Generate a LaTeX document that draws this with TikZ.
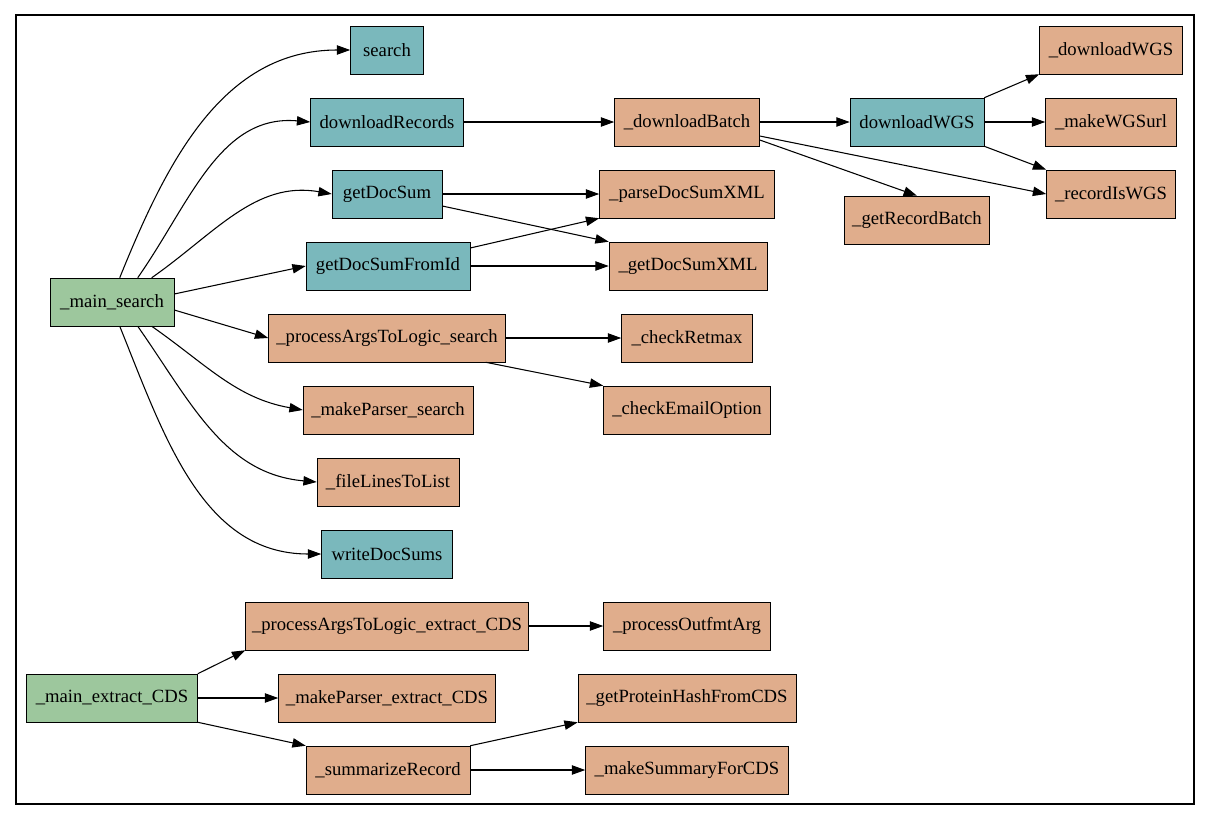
\documentclass[tikz,border=0pt]{standalone}
\usepackage{fontspec}
\setmainfont{Liberation Serif}
\usetikzlibrary{arrows.meta}
\begin{document}
\begin{tikzpicture}[x=0.75pt,y=-0.75pt,
 b/.style={draw,minimum height=36pt,inner sep=0pt,font=\fontsize{14}{16}\selectfont},
 t/.style={b,fill=teal1}, o/.style={b,fill=org}, g/.style={b,fill=grn},
 e/.style={-{Triangle[length=10pt,width=7pt]},line width=0.8pt}]
\definecolor{teal1}{HTML}{7AB8BC}\definecolor{org}{HTML}{E0AD8C}\definecolor{grn}{HTML}{9DC79D}
\useasboundingbox (0,0) rectangle (1211,821);
\draw[line width=0.8pt] (16,15) rectangle (1194,804);
\def\N#1#2#3#4#5#6{\node[#1,minimum width=#5*0.75pt] (#2) at (#3,#4) {#6};}
\N{t}{search}{387}{50}{73}{search}
\N{t}{dlr}{387}{122}{153}{downloadRecords}
\N{t}{gds}{387}{194}{110}{getDocSum}
\N{t}{gdsi}{388}{266}{164}{getDocSumFromId}
\N{g}{ms}{112}{302}{124}{\_main\_search}
\N{o}{pal}{387}{338}{237}{\_processArgsToLogic\_search}
\N{o}{mps}{388}{410}{170}{\_makeParser\_search}
\N{o}{fll}{388}{482}{142}{\_fileLinesToList}
\N{t}{wds}{387}{554}{131}{writeDocSums}
\N{o}{db}{687}{122}{145}{\_downloadBatch}
\N{o}{pdx}{687}{194}{175}{\_parseDocSumXML}
\N{o}{gdx}{688}{266}{158}{\_getDocSumXML}
\N{o}{cr}{687}{338}{131}{\_checkRetmax}
\N{o}{ceo}{687}{410}{167}{\_checkEmailOption}
\N{t}{dw}{917}{122}{134}{downloadWGS}
\N{o}{grb}{917}{220}{145}{\_getRecordBatch}
\N{o}{udw}{1111}{50}{143}{\_downloadWGS}
\N{o}{mwu}{1111}{122}{131}{\_makeWGSurl}
\N{o}{riw}{1111}{194}{129}{\_recordIsWGS}
\N{o}{palc}{387}{626}{283}{\_processArgsToLogic\_extract\_CDS}
\N{g}{mec}{112}{698}{171}{\_main\_extract\_CDS}
\N{o}{mpc}{387}{698}{217}{\_makeParser\_extract\_CDS}
\N{o}{sr}{388}{770}{164}{\_summarizeRecord}
\N{o}{pof}{687}{626}{167}{\_processOutfmtArg}
\N{o}{gph}{687}{698}{218}{\_getProteinHashFromCDS}
\N{o}{msc}{687}{770}{203}{\_makeSummaryForCDS}
\draw[e] (ms.north west)++(70,0) to[out=68,in=180] (search.west);
\draw[e] (ms.north west)++(88,0) to[out=55,in=175] (dlr.west);
\draw[e] (ms.north west)++(102,0) to[out=35,in=170] (gds.west);
\draw[e] (ms.east)++(0,-8) -- (gdsi.west);
\draw[e] (ms.east)++(0,8) -- (pal.west);
\draw[e] (ms.south west)++(102,0) to[out=-35,in=170] (mps.west);
\draw[e] (ms.south west)++(88,0) to[out=-55,in=175] (fll.west);
\draw[e] (ms.south west)++(70,0) to[out=-68,in=180] (wds.west);
\draw[e] (dlr) -- (db);
\draw[e] (gds) -- (pdx);
\draw[e] (gds.east)++(0,12) -- (gdx.north west);
\draw[e] (gdsi.east)++(0,-18) -- (pdx.south west);
\draw[e] (gdsi) -- (gdx);
\draw[e] (pal) -- (cr);
\draw[e] (pal.south east)++(-20,0) -- (ceo.north west);
\draw[e] (db) -- (dw);
\draw[e] (db.east)++(0,18) -- (grb.north);
\draw[e] (db.east)++(0,14) -- (riw.west);
\draw[e] (dw.north east) -- (udw.south west);
\draw[e] (dw) -- (mwu);
\draw[e] (dw.south east) -- (riw.north west);
\draw[e] (palc) -- (pof);
\draw[e] (mec.north east) -- (palc.south west);
\draw[e] (mec) -- (mpc);
\draw[e] (mec.south east) -- (sr.north west);
\draw[e] (sr.north east) -- (gph.south west);
\draw[e] (sr) -- (msc);
\end{tikzpicture}
\end{document}
